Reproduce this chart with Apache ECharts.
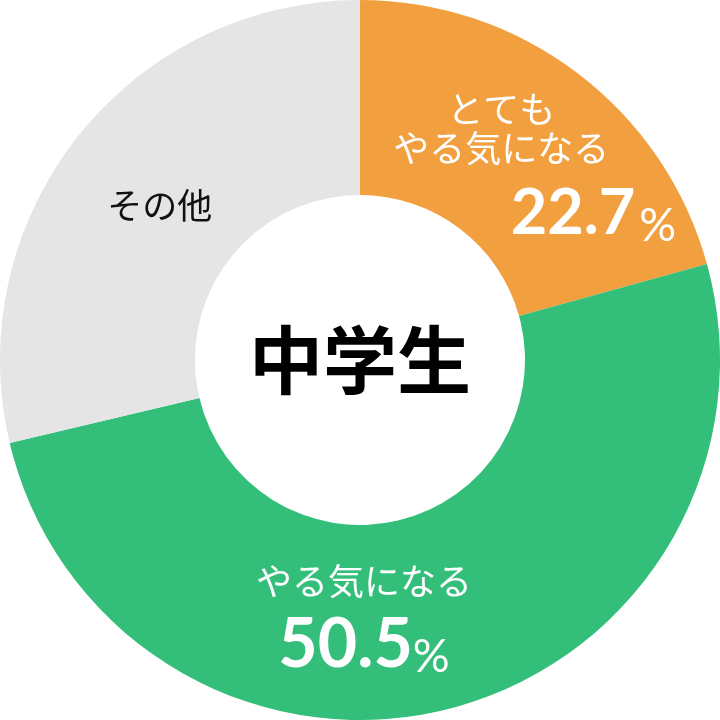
<!DOCTYPE html>
<html>
<head>
<meta charset="utf-8">
<script src="https://cdn.jsdelivr.net/npm/echarts@6/dist/echarts.min.js"></script>
<style>
html,body{margin:0;padding:0;background:#fff;}
#chart{width:720px;height:720px;}
</style>
</head>
<body>
<div id="chart"></div>
<script>
// Slice names and their label lines
const sliceNames = ['とてもやる気になる', 'やる気になる', 'その他'];
const labelLines = [['とても', 'やる気になる'], ['やる気になる'], ['その他']];
// Arc shares as drawn in the picture (percent of the ring)
const sliceShares = [20.7, 50.6, 28.7];
// Percentages printed on the chart
const printedPercents = ['22.7', '50.5', null];
const sliceColors = ['#F2A03F', '#33BE7A', '#E5E5E5'];
const centerTitle = '中学生';

const JP = '"Noto Sans CJK JP", "Noto Sans", sans-serif';
const NUM = 'Lato, "Noto Sans", sans-serif';

function labelText(i) {
  const lines = labelLines[i].map(function (s) { return '{t' + i + '|' + s + '}'; });
  if (printedPercents[i]) lines.push('{n' + i + '|' + printedPercents[i] + '}{p' + i + '|%}');
  return lines.join('\n');
}

const rich = {
  t0: { color: '#fff', fontFamily: JP, fontSize: 36, lineHeight: 39, align: 'center', padding: [0, 67, 0, 0] },
  n0: { color: '#fff', fontFamily: NUM, fontWeight: 'bold', fontSize: 63, lineHeight: 92, align: 'right' },
  p0: { color: '#fff', fontFamily: NUM, fontWeight: 'normal', fontSize: 46, lineHeight: 92, align: 'right', padding: [25, 0, 0, 4] },
  t1: { color: '#fff', fontFamily: JP, fontSize: 36, lineHeight: 40, align: 'center' },
  n1: { color: '#fff', fontFamily: NUM, fontWeight: 'bold', fontSize: 68, lineHeight: 88, align: 'center' },
  p1: { color: '#fff', fontFamily: NUM, fontWeight: 'normal', fontSize: 46, lineHeight: 88, align: 'center', padding: [25, 0, 0, 0] }, 
  t2: { color: '#111', fontFamily: JP, fontSize: 35, lineHeight: 40, align: 'center' }
};

const labelShift = [[14, 26], [-62, 8], [8, 10]];

const chart = echarts.init(document.getElementById('chart'));
chart.setOption({
  animation: false,
  backgroundColor: '#fff',
  title: {
    text: centerTitle,
    left: 'center',
    top: 'middle',
    textStyle: { fontFamily: JP, fontWeight: 'bold', fontSize: 74, color: '#000' }
  },
  series: [{
    type: 'pie',
    center: ['50%', '50%'],
    radius: [165, 360],
    startAngle: 90,
    clockwise: true,
    avoidLabelOverlap: false,
    emphasis: { disabled: true },
    label: {
      show: true,
      position: 'inside',
      formatter: function (p) { return labelText(p.dataIndex); },
      rich: rich
    },
    labelLine: { show: false },
    labelLayout: function (p) {
      return { dx: labelShift[p.dataIndex][0], dy: labelShift[p.dataIndex][1] };
    },
    itemStyle: { borderWidth: 0 },
    data: sliceNames.map(function (n, i) {
      return { name: n, value: sliceShares[i], itemStyle: { color: sliceColors[i] } };
    })
  }]
});
</script>
</body>
</html>
